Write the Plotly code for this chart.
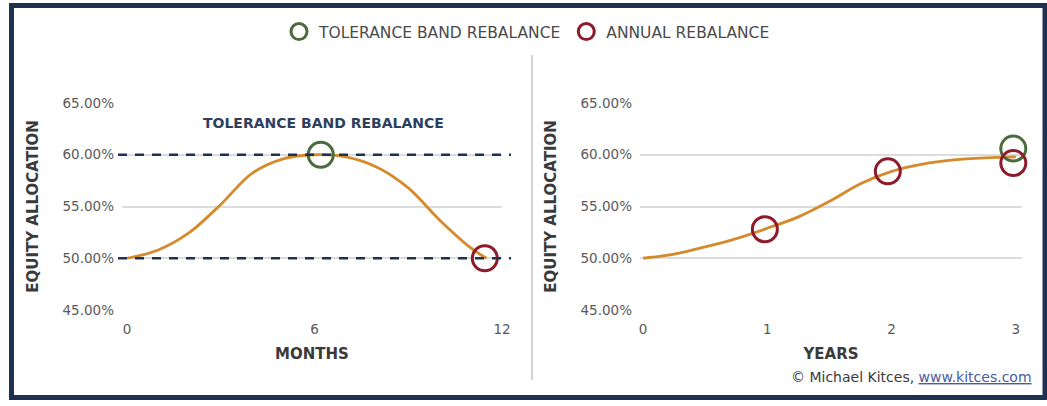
import plotly.graph_objects as go

W, H = 1047, 406

# left panel: one year, tolerance band
MONTHS = [0, 1, 2, 3, 4, 5, 6, 7, 8, 9, 10, 11, 11.5]
MONTH_ALLOC = [50.0, 50.8, 52.5, 55.2, 58.2, 59.6, 60.0, 59.8, 58.8, 56.8, 53.7, 51.0, 50.0]
BAND_LOWER = 50.0
BAND_UPPER = 60.0
BAND_HIT_X, BAND_HIT_Y = [6.2], [60.0]
ANNUAL_LEFT_X, ANNUAL_LEFT_Y = [11.45], [50.0]

# right panel: three years
YEARS = [0, 0.25, 0.5, 0.75, 1, 1.25, 1.5, 1.75, 2, 2.25, 2.5, 2.75, 3]
YEAR_ALLOC = [50.0, 50.4, 51.1, 51.9, 52.9, 54.0, 55.5, 57.2, 58.4, 59.1, 59.5, 59.7, 59.8]
BAND_RIGHT_X, BAND_RIGHT_Y = [2.98], [60.6]
ANNUAL_RIGHT_X, ANNUAL_RIGHT_Y = [0.98, 1.97, 2.98], [52.8, 58.4, 59.2]

Y_TICKS = [45, 50, 55, 60, 65]
Y_TICK_TEXT = [f"{v:.2f}%" for v in Y_TICKS]
MONTH_TICKS = [0, 6, 12]
YEAR_TICKS = [0, 1, 2, 3]

ORANGE = "#d58a2c"
GREEN = "#4b6b3c"
RED = "#8e1b2c"
NAVY = "#1f3150"
GRID = "#dcdcdc"
FONT = "DejaVu Sans"


def px(x):
    return x / W


def py(y):
    return 1 - y / H


fig = go.Figure()

fig.add_trace(go.Scatter(x=MONTHS, y=MONTH_ALLOC, mode="lines", line=dict(color=ORANGE, width=2.8, shape="spline"),
                         showlegend=False, xaxis="x", yaxis="y"))
fig.add_trace(go.Scatter(x=YEARS, y=YEAR_ALLOC, mode="lines", line=dict(color=ORANGE, width=2.8, shape="spline"),
                         showlegend=False, xaxis="x2", yaxis="y2"))

marker_g = dict(symbol="circle-open", size=25, color=GREEN, line=dict(width=3, color=GREEN))
marker_r = dict(symbol="circle-open", size=25, color=RED, line=dict(width=3, color=RED))

fig.add_trace(go.Scatter(x=BAND_HIT_X, y=BAND_HIT_Y, mode="markers", marker=marker_g, name="TOLERANCE BAND REBALANCE",
                         cliponaxis=False, xaxis="x", yaxis="y"))
fig.add_trace(go.Scatter(x=ANNUAL_LEFT_X, y=ANNUAL_LEFT_Y, mode="markers", marker=marker_r, name="ANNUAL REBALANCE",
                         cliponaxis=False, xaxis="x", yaxis="y"))
fig.add_trace(go.Scatter(x=BAND_RIGHT_X, y=BAND_RIGHT_Y, mode="markers", marker=marker_g, showlegend=False,
                         cliponaxis=False, xaxis="x2", yaxis="y2"))
fig.add_trace(go.Scatter(x=ANNUAL_RIGHT_X, y=ANNUAL_RIGHT_Y, mode="markers", marker=marker_r, showlegend=False,
                         cliponaxis=False, xaxis="x2", yaxis="y2"))

ydom = [py(310), py(103)]
title_font = dict(family=FONT, size=15, color="#3a3a3a")
yax = dict(range=[45, 65], tickvals=Y_TICKS, ticktext=Y_TICK_TEXT, showgrid=True, gridcolor=GRID,
           gridwidth=1.5, zeroline=False, showline=False, ticks="", ticklabelstandoff=7, automargin=False,
           tickfont=dict(family=FONT, size=13.5, color="#5a5a5a"),
           title=dict(text="<b>EQUITY ALLOCATION</b>", font=title_font, standoff=20))
xax = dict(showgrid=False, zeroline=False, showline=False, ticks="", ticklabelstandoff=9, automargin=False,
           tickfont=dict(family=FONT, size=13.5, color="#5a5a5a"))

fig.update_layout(
    template="none",
    width=W, height=H,
    margin=dict(l=0, r=0, t=0, b=0, autoexpand=False),
    paper_bgcolor="white", plot_bgcolor="white",
    font=dict(family=FONT),
    xaxis=dict(xax, domain=[px(122), px(502)], range=[-0.16, 12.0], tickvals=MONTH_TICKS, anchor="y",
               title=dict(text="<b>MONTHS</b>", font=title_font, standoff=12)),
    yaxis=dict(yax, domain=ydom, anchor="x"),
    xaxis2=dict(xax, domain=[px(640), px(1022)], range=[-0.025, 3.05], tickvals=YEAR_TICKS, anchor="y2",
                title=dict(text="<b>YEARS</b>", font=title_font, standoff=12)),
    yaxis2=dict(yax, domain=ydom, anchor="x2"),
    legend=dict(orientation="h", x=px(527), xanchor="center", y=py(32), yanchor="middle",
                font=dict(family=FONT, size=15.5, color="#4a4a4a"), itemwidth=30, bgcolor="rgba(0,0,0,0)"),
    showlegend=True,
)

# tolerance band lines
for level in (BAND_UPPER, BAND_LOWER):
    fig.add_shape(type="line", xref="paper", yref="y", x0=px(118), x1=px(511), y0=level, y1=level,
                  line=dict(color=NAVY, width=2.5, dash="9px,8px"))

# panel separator and frame
fig.add_shape(type="line", xref="paper", yref="paper", x0=px(532), x1=px(532), y0=py(55), y1=py(380),
              line=dict(color="#d3d3d3", width=2))
fig.add_shape(type="rect", xref="paper", yref="paper", x0=px(11.5), x1=px(1045), y0=py(397.5), y1=py(5.5),
              line=dict(color=NAVY, width=5))

fig.add_annotation(text="<b>TOLERANCE BAND REBALANCE</b>", xref="paper", yref="paper", x=px(323), y=py(123),
                   xanchor="center", yanchor="middle", showarrow=False,
                   font=dict(family=FONT, size=14, color="#2e3f5e"))
fig.add_annotation(text="© Michael Kitces, <span style='color:#4a5ca0'><u>www.kitces.com</u></span>",
                   xref="paper", yref="paper", x=px(1034), y=py(377), xanchor="right", yanchor="middle",
                   showarrow=False, font=dict(family=FONT, size=14, color="#3a3a3a"))

# page body has a default margin; drop it so the figure sits at the window origin
fig.write_html("out.html", config={"displayModeBar": False},
               post_script="document.body.style.margin='0';")
